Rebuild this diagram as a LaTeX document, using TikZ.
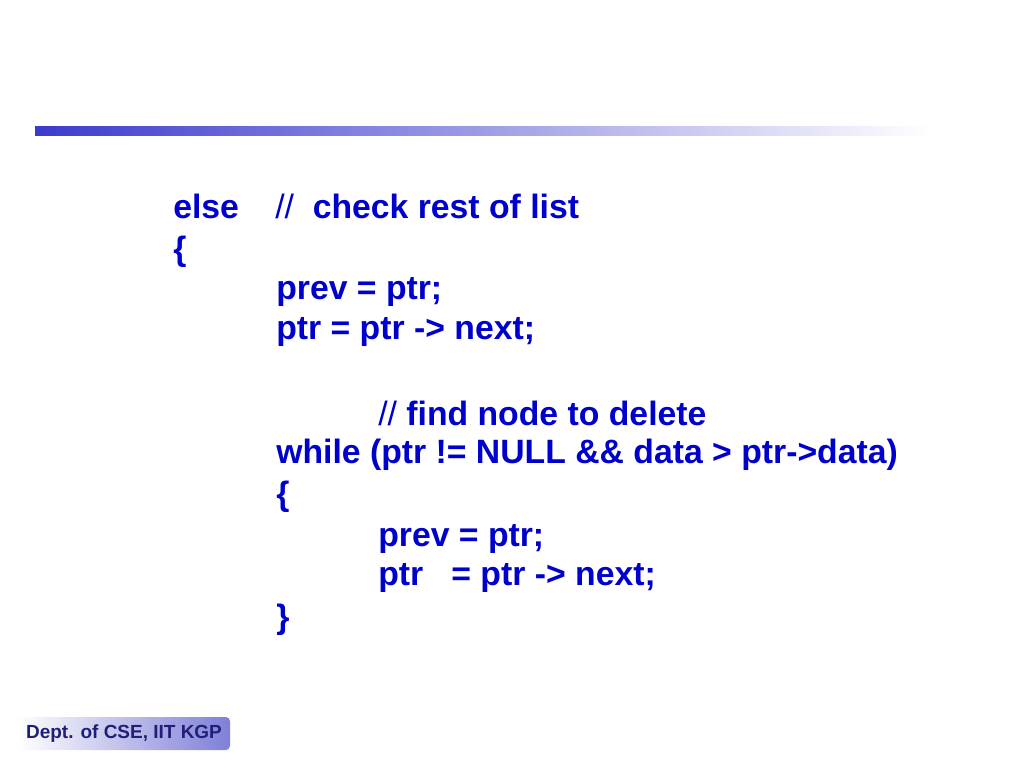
\documentclass[tikz,border=0pt]{standalone}
\usepackage{fontspec}
\setmainfont{Liberation Sans}
\definecolor{codeblue}{HTML}{0000CC}
\definecolor{barblue}{HTML}{3B3BCC}
\definecolor{footblue}{HTML}{7F7FD8}
\definecolor{foottext}{HTML}{1F1F78}
\newcommand{\slashes}{{\mdseries //}}
\tikzset{
  code/.style={anchor=west, inner sep=0pt, text=codeblue, font=\fontsize{24}{28}\selectfont\bfseries},
  foot/.style={rounded corners=3pt, left color=white, right color=footblue, text=foottext, font=\fontsize{13.5}{16}\selectfont\bfseries}
}
\begin{document}
\begin{tikzpicture}[x=0.025cm, y=-0.025cm]
  \useasboundingbox (0,0) rectangle (1024,768);
  \shade[left color=barblue, right color=white, draw=none] (35,127) rectangle (930,136);

  \node[code] at (173,206) (else) {else};
  \node[code] at (275,206) (c1) {\slashes\ \ check rest of list};
  \node[code] at (173,252) (ob1) {\{};
  \node[code] at (276,292) (l1) {prev = ptr;};
  \node[code] at (276,332) (l2) {ptr = ptr -> next;};
  \node[code] at (378,413) (c2) {\slashes\ find node to delete};
  \node[code] at (276,455) (wh) {while (ptr != NULL \&\& data > ptr->data)};
  \node[code] at (276,497) (ob2) {\{};
  \node[code] at (378,539) (l3) {prev = ptr;};
  \node[code] at (378,578) (l4) {ptr\ \ \ = ptr -> next;};
  \node[code] at (276,620) (cb2) {\}};

  \node[foot, minimum width=212*0.025cm, minimum height=33*0.025cm] at (124,733.5) (dept) {Dept. of CSE, IIT KGP};
\end{tikzpicture}
\end{document}
